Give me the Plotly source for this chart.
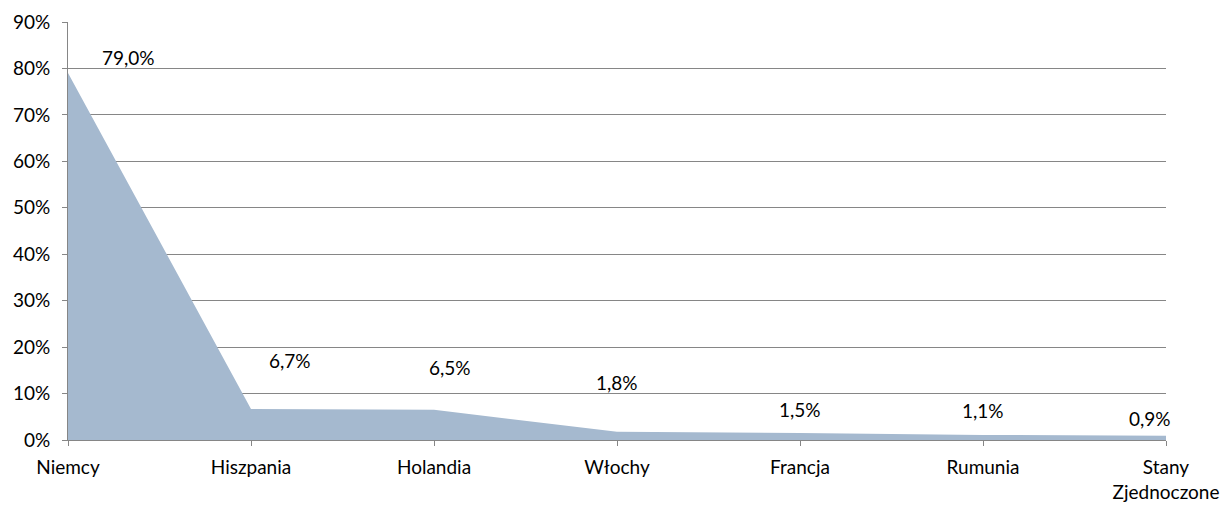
import plotly.graph_objects as go

categories = ["Niemcy", "Hiszpania", "Holandia", "Włochy", "Francja", "Rumunia", "Stany<br>Zjednoczone"]
values = [79.0, 6.7, 6.5, 1.8, 1.5, 1.1, 0.9]
y_ticks = [0, 10, 20, 30, 40, 50, 60, 70, 80, 90]
y_tick_text = [f"{t}%" for t in y_ticks]

# label offsets (pixels) mimicking Excel's label placement
label_dx = [60, 39, 16, 0, 0, 0, -16]
label_dy = [16, 48, 42, 49, 24, 24, 17]

FONT = "Lato"
FS = 19
fig = go.Figure()
x_idx = list(range(len(categories)))
fig.add_trace(go.Scatter(
    x=x_idx, y=values, mode="lines", fill="tozeroy",
    line=dict(width=0, color="#A5B9CF"), fillcolor="#A5B9CF",
    hoverinfo="skip", showlegend=False,
))

for i, v in enumerate(values):
    fig.add_annotation(
        x=i, y=v, xref="x", yref="y",
        text=f"{v:.1f}".replace(".", ",") + "%",
        showarrow=False, xshift=label_dx[i], yshift=label_dy[i],
        font=dict(family=FONT, size=FS, color="#000000"),
    )

fig.update_layout(
    width=1223, height=504,
    margin=dict(l=60, r=65, t=14, b=72, autoexpand=False),
    paper_bgcolor="white", plot_bgcolor="white",
    font=dict(family=FONT, size=FS, color="#000000"),
    showlegend=False,
)
fig.update_xaxes(
    range=[0, len(categories) - 1],
    tickmode="array", tickvals=x_idx, ticktext=categories,
    showgrid=False, showline=True, linecolor="#868686", linewidth=1,
    ticks="outside", ticklen=5, tickcolor="#868686", ticklabelstandoff=5,
    zeroline=False, tickfont=dict(family=FONT, size=FS), automargin=False,
)
fig.update_yaxes(
    range=[0, 90], tickmode="array", tickvals=y_ticks, ticktext=y_tick_text,
    showgrid=True, gridcolor="#868686", gridwidth=1,
    showline=True, linecolor="#868686", linewidth=1,
    ticks="outside", ticklen=5, tickcolor="#868686", ticklabelstandoff=8,
    zeroline=False, tickfont=dict(family=FONT, size=FS), automargin=False,
)

fig.write_html("out.html")
